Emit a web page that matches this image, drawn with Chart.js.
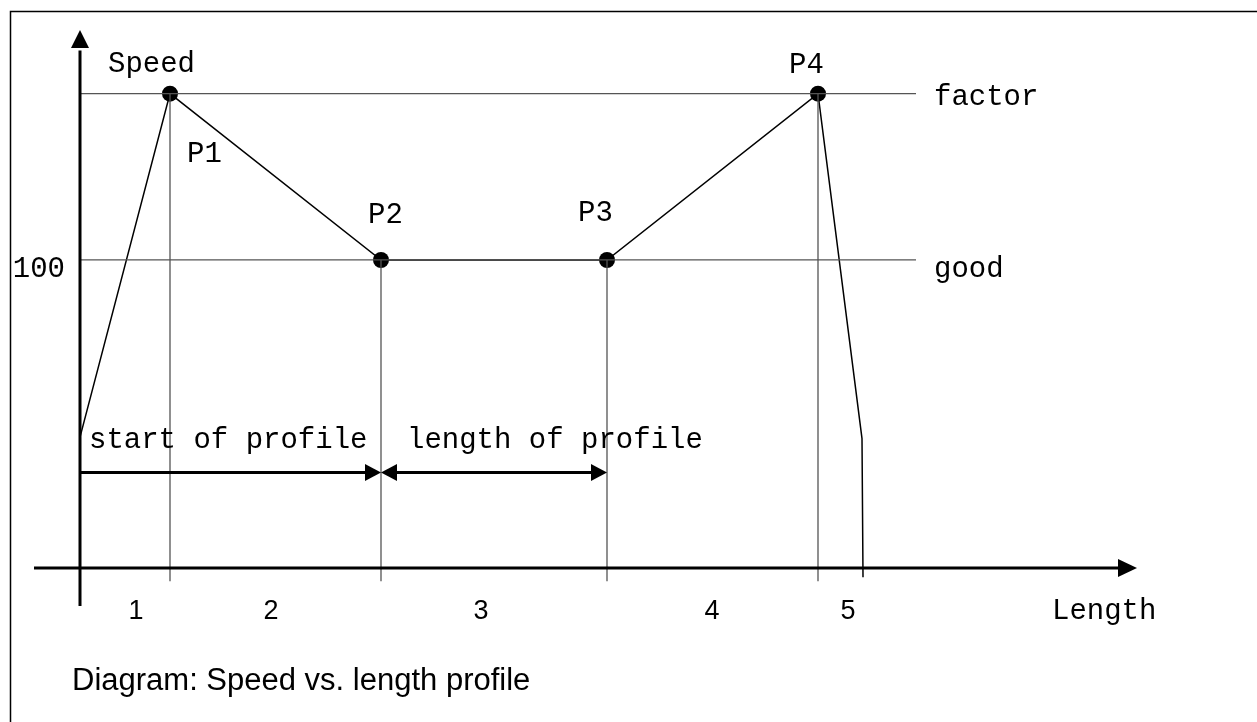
<!DOCTYPE html>
<html>
<head>
<meta charset="utf-8">
<title>Speed vs. length profile</title>
<script src="https://cdn.jsdelivr.net/npm/chart.js@4.4.1/dist/chart.umd.min.js"></script>
<style>
  html, body { margin: 0; padding: 0; background: #fff; }
  #wrap { width: 1257px; height: 722px; }
</style>
</head>
<body>
<div id="wrap"><canvas id="profile"></canvas></div>
<script>
// profile corners: length (x) and speed (y)
const profileLength = [0, 0.9, 3.01, 5.27, 7.38, 7.82, 7.83];
const profileSpeed = [42.5, 154, 100, 100, 154, 42, -3];
const pointNames = ['', 'P1', 'P2', 'P3', 'P4', '', ''];

// horizontal speed levels, drawn up to levelEnd
const levelSpeed = [154, 100];
const levelNames = ['factor', 'good'];
const levelEnd = 8.36;
const speedTicks = ['100'];
const speedTickAt = [100];

// numbered segments along the length axis
const segmentNames = ['1', '2', '3', '4', '5'];
const segmentTickAt = [0.56, 1.91, 4.01, 6.32, 7.68];

// dimension arrows under the profile
const spanFrom = [0, 3.01];
const spanTo = [3.01, 5.27];
const spanNames = ['start of profile', 'length of profile'];
const spanTextAt = [0.09, 3.27];
const spanSpeed = 31;

const MONO = '29px "Liberation Mono", "Courier New", monospace';
const SANS = '"Liberation Sans", Arial, sans-serif';

function arrowHead(ctx, x, y, dir, len, half) {
    // dir: 'r', 'l', 'u'
    ctx.beginPath();
    if (dir == 'r') {
        ctx.moveTo(x, y); ctx.lineTo(x - len, y - half); ctx.lineTo(x - len, y + half);
    } else if (dir == 'l') {
        ctx.moveTo(x, y); ctx.lineTo(x + len, y - half); ctx.lineTo(x + len, y + half);
    } else {
        ctx.moveTo(x, y); ctx.lineTo(x - half, y + len); ctx.lineTo(x + half, y + len);
    }
    ctx.closePath();
    ctx.fill();
}

const diagramPlugin = {
    id: 'diagram',
    beforeDraw(chart) {
        const ctx = chart.ctx;
        ctx.save();
        ctx.strokeStyle = '#000';
        ctx.lineWidth = 1.5;
        ctx.strokeRect(10.5, 11.5, 1400, 900);
        ctx.restore();
    },
    afterDatasetsDraw(chart) {
        const ctx = chart.ctx;
        const sx = chart.scales.x, sy = chart.scales.y;
        const px = v => sx.getPixelForValue(v);
        const py = v => sy.getPixelForValue(v);
        ctx.save();
        ctx.fillStyle = '#000';
        ctx.strokeStyle = '#000';

        // axes
        ctx.lineWidth = 3;
        ctx.beginPath();
        ctx.moveTo(px(0), py(-12.3));
        ctx.lineTo(px(0), py(168));
        ctx.moveTo(px(-0.46), py(0));
        ctx.lineTo(px(10.4), py(0));
        ctx.stroke();
        arrowHead(ctx, px(0), py(174.7), 'u', 18, 9);
        arrowHead(ctx, px(10.57), py(0), 'r', 19, 9);

        // dimension arrows
        ctx.lineWidth = 3;
        spanFrom.forEach((a, i) => {
            const y = py(spanSpeed);
            ctx.beginPath();
            ctx.moveTo(px(a) + (i > 0 ? 8 : 0), y);
            ctx.lineTo(px(spanTo[i]) - 8, y);
            ctx.stroke();
            arrowHead(ctx, px(spanTo[i]), y, 'r', 16, 8.5);
            if (i > 0) arrowHead(ctx, px(a), y, 'l', 16, 8.5);
        });

        ctx.textBaseline = 'alphabetic';
        ctx.font = MONO;
        ctx.textAlign = 'left';
        spanNames.forEach((t, i) => ctx.fillText(t, px(spanTextAt[i]), py(39)));

        // point names
        const nameShift = { P1: [17, 68], P2: [-13, -37], P3: [-29, -39], P4: [-29, -21] };
        pointNames.forEach((n, i) => {
            if (!n) return;
            const d = nameShift[n];
            ctx.fillText(n, px(profileLength[i]) + d[0], py(profileSpeed[i]) + d[1]);
        });

        // level names at the end of each level line
        const levelShift = [11, 17];
        levelNames.forEach((n, i) => ctx.fillText(n, px(levelEnd) + 18, py(levelSpeed[i]) + levelShift[i]));

        // axis titles
        ctx.fillText('Speed', px(0.28), py(161));
        ctx.fillText('Length', px(9.72), py(-16.6));

        ctx.textAlign = 'right';
        speedTicks.forEach((t, i) => ctx.fillText(t, px(-0.15), py(speedTickAt[i]) + 17));

        // segment numbers
        ctx.font = '27px ' + SANS;
        ctx.textAlign = 'center';
        segmentNames.forEach((t, i) => ctx.fillText(t, px(segmentTickAt[i]), py(-16.6)));

        // caption
        ctx.font = '31px ' + SANS;
        ctx.textAlign = 'left';
        ctx.fillText('Diagram: Speed vs. length profile', px(-0.08), py(-39.6));
        ctx.restore();
    }
};

// gray helper lines: speed levels and drops from the corners to the axis
const guideSets = [];
levelSpeed.forEach(s => {
    guideSets.push({ data: [{ x: 0, y: s }, { x: levelEnd, y: s }] });
});
[1, 2, 3, 4].forEach(i => {
    guideSets.push({ data: [{ x: profileLength[i], y: profileSpeed[i] }, { x: profileLength[i], y: -4.3 }] });
});
guideSets.forEach(g => {
    g.showLine = true;
    g.borderColor = '#555';
    g.borderWidth = 1.3;
    g.pointRadius = 0;
});

const profileSet = {
    data: profileLength.map((l, i) => ({ x: l, y: profileSpeed[i] })),
    showLine: true,
    borderColor: '#000',
    borderWidth: 1.5,
    backgroundColor: '#000',
    pointBackgroundColor: '#000',
    pointBorderWidth: 0,
    pointRadius: pointNames.map(n => n ? 8 : 0)
};

new Chart(document.getElementById('profile'), {
    type: 'scatter',
    data: { datasets: guideSets.concat([profileSet]) },
    options: {
        responsive: true,
        maintainAspectRatio: false,
        animation: false,
        events: [],
        layout: { padding: 0 },
        plugins: { legend: { display: false }, tooltip: { enabled: false } },
        scales: {
            x: { type: 'linear', min: -0.8, max: 11.77, display: false },
            y: { type: 'linear', min: -50, max: 184.4, display: false }
        }
    },
    plugins: [diagramPlugin]
});
</script>
</body>
</html>
